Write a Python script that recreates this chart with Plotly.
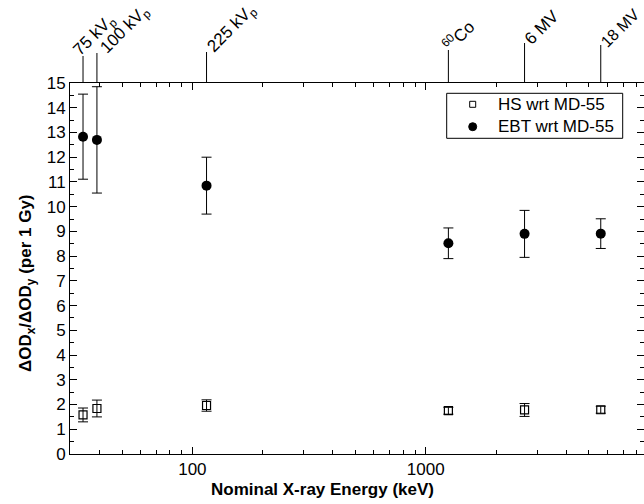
import numpy as np
import plotly.graph_objects as go

# ---- data ----
energy_kev = [34, 39, 115, 1250, 2650, 5620]
source_labels = ["75 kV<sub>p</sub>", "100 kV<sub>p</sub>", "225 kV<sub>p</sub>",
                 "<sup>60</sup>Co", "6 MV", "18 MV"]
hs_ratio = [1.58, 1.84, 1.96, 1.75, 1.78, 1.79]
hs_err = [0.28, 0.34, 0.23, 0.14, 0.26, 0.14]
ebt_ratio = [12.83, 12.70, 10.85, 8.52, 8.90, 8.91]
ebt_err = [1.72, 2.15, 1.15, 0.62, 0.95, 0.60]
series_names = ["HS wrt MD-55", "EBT wrt MD-55"]

x_ticks = [100, 1000]
x_minor = [30, 40, 50, 60, 70, 80, 90, 200, 300, 400, 500, 600, 700, 800, 900,
           2000, 3000, 4000, 5000, 6000, 7000, 8000]

FONT = "Arial, Liberation Sans, sans-serif"
W, H = 644, 504
ML, MR, MT, MB = 70, 0, 83, 50
PH = H - MT - MB
PW = W - ML - MR


def px(xp):
    return (xp - ML) / PW


def py(yp):
    return (H - MB - yp) / PH


fig = go.Figure()
fig.add_trace(go.Scatter(
    x=energy_kev, y=hs_ratio, mode="markers", name=series_names[0], showlegend=False,
    marker=dict(symbol="square-open", size=8, color="black", line=dict(width=1.2)),
    error_y=dict(type="data", array=hs_err, color="black", thickness=1, width=5),
))
fig.add_trace(go.Scatter(
    x=energy_kev, y=ebt_ratio, mode="markers", name=series_names[1], showlegend=False,
    marker=dict(symbol="circle", size=10, color="black"),
    error_y=dict(type="data", array=ebt_err, color="black", thickness=1, width=5),
))
# invisible trace to activate right-hand tick axis
fig.add_trace(go.Scatter(x=[energy_kev[0]], y=[ebt_ratio[0]], yaxis="y2", mode="markers",
                         marker=dict(opacity=0), showlegend=False, hoverinfo="skip"))

# top source marker lines and labels
line_len_px = [27, 30, 31, 33, 40, 38]
label_shift = [-13, 0, -3, -9, -3, -2]
label_size = [17, 17, 17, 17, 17, 16]
for e, lab, ln, sh, fs in zip(energy_kev, source_labels, line_len_px, label_shift, label_size):
    ytop = 1 + ln / PH
    fig.add_shape(type="line", xref="x", yref="paper", x0=e, x1=e,
                  y0=1, y1=ytop, line=dict(color="black", width=1))
    fig.add_annotation(x=np.log10(e), y=ytop, xref="x", yref="paper", text=lab,
                       showarrow=False, textangle=-45, xanchor="left", yanchor="bottom",
                       xshift=sh - 2, yshift=-7, borderpad=0,
                       font=dict(family=FONT, size=fs, color="black"))

# hand-drawn legend box
fig.add_shape(type="rect", xref="paper", yref="paper",
              x0=px(446.7), x1=px(622.7), y0=py(138.3), y1=py(93.3),
              line=dict(color="black", width=1), fillcolor="white", layer="above")
legend_rows = [104.3, 126.7]
fig.add_shape(type="rect", xref="paper", yref="paper", xsizemode="pixel", ysizemode="pixel",
              xanchor=px(472.7), yanchor=py(legend_rows[0]), x0=-3, x1=3, y0=-3, y1=3,
              line=dict(color="black", width=1), fillcolor="white", layer="above")
fig.add_shape(type="circle", xref="paper", yref="paper", xsizemode="pixel", ysizemode="pixel",
              xanchor=px(472.7), yanchor=py(legend_rows[1]), x0=-4, x1=4, y0=-4, y1=4,
              line=dict(color="black", width=1), fillcolor="black", layer="above")
for name, yr in zip(series_names, legend_rows):
    fig.add_annotation(x=px(497), y=py(yr), xref="paper", yref="paper", text=name,
                       showarrow=False, xanchor="left", yanchor="middle", borderpad=0,
                       font=dict(family=FONT, size=17, color="black"))

# axis titles
fig.add_annotation(x=px(322), y=-0.095, xref="paper", yref="paper",
                   text="<b>Nominal X-ray Energy (keV)</b>", showarrow=False,
                   xanchor="center", yanchor="middle",
                   font=dict(family=FONT, size=17, color="black"))
fig.add_annotation(x=px(27), y=py(283), xref="paper", yref="paper",
                   text="<b>ΔOD<sub>x</sub>/ΔOD<sub>y</sub> (per 1 Gy)</b>", showarrow=False,
                   textangle=-90, xanchor="center", yanchor="middle",
                   font=dict(family=FONT, size=17, color="black"))

fig.update_layout(
    width=W, height=H,
    margin=dict(l=ML, r=MR, t=MT, b=MB, pad=0),
    paper_bgcolor="white", plot_bgcolor="white",
    font=dict(family=FONT, size=17, color="black"),
    xaxis=dict(type="log", range=[np.log10(29.9), np.log10(8610)],
               tickvals=x_ticks, ticktext=[str(v) for v in x_ticks],
               ticks="inside", ticklen=7, tickwidth=1, tickcolor="black",
               minor=dict(ticks="inside", ticklen=4, tickwidth=1, tickcolor="black",
                          tickvals=x_minor, showgrid=False),
               showline=True, linecolor="black", linewidth=1, mirror="ticks",
               showgrid=False, zeroline=False,
               tickfont=dict(family=FONT, size=17, color="black")),
    yaxis=dict(range=[0, 15], dtick=1, tick0=0,
               ticks="inside", ticklen=7, tickwidth=1, tickcolor="black",
               minor=dict(ticks="inside", ticklen=4, dtick=0.5, tickwidth=1,
                          tickcolor="black", showgrid=False),
               showline=True, linecolor="black", linewidth=1,
               showgrid=False, zeroline=False,
               tickfont=dict(family=FONT, size=17, color="black")),
    yaxis2=dict(range=[0, 15], overlaying="y", side="right", dtick=1, tick0=0,
                ticks="inside", ticklen=7, tickwidth=1, tickcolor="black",
                minor=dict(ticks="inside", ticklen=4, dtick=0.5, tickwidth=1,
                           tickcolor="black", showgrid=False),
                showticklabels=False, showline=False, showgrid=False, zeroline=False),
    showlegend=False,
)

fig.write_html("out.html")
